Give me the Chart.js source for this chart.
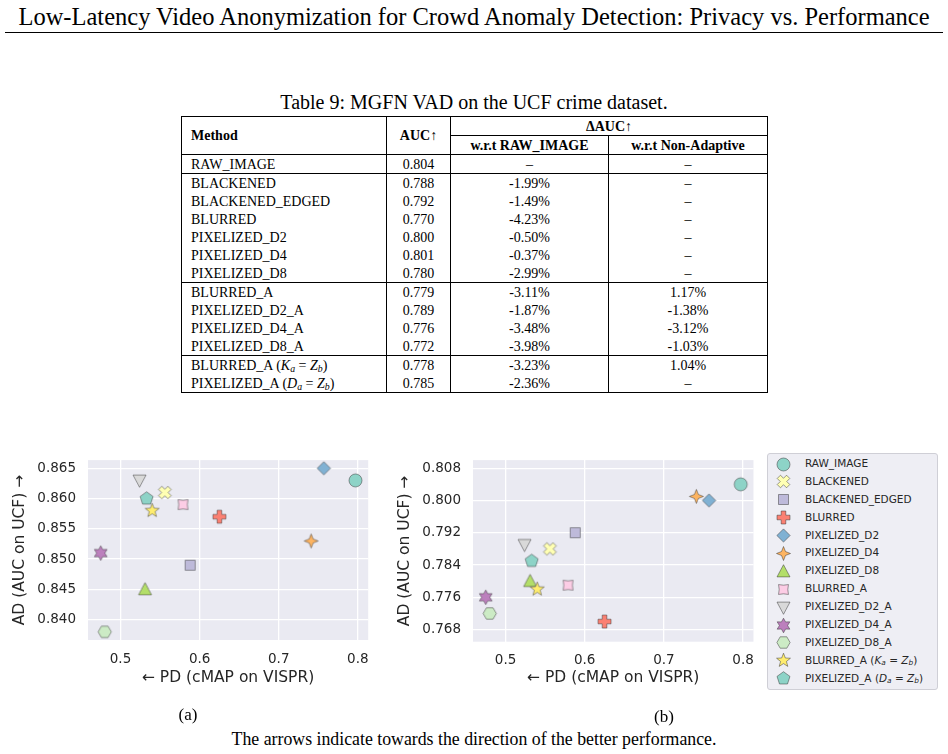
<!DOCTYPE html>
<html>
<head>
<meta charset="utf-8">
<script src="https://cdn.jsdelivr.net/npm/chart.js@4.4.0/dist/chart.umd.min.js"></script>
<style>
  body { margin: 0; width: 948px; height: 754px; position: relative; overflow: hidden; background: #fff;
         font-family: "Liberation Serif", "DejaVu Serif", serif; color: #000; }
  .abs { position: absolute; }
  #header { left: 0; top: 3px; width: 948px; text-align: center; font-size: 24.5px; line-height: 28px; white-space: nowrap; }
  #rule { left: 5px; top: 32px; width: 938px; border-top: 1px solid #000; }
  #tcap { left: 0; top: 91px; width: 948px; text-align: center; font-size: 20px; line-height: 22px; }
  #tbl { position: absolute; left: 181px; top: 116px; border-collapse: collapse; table-layout: fixed;
         font-size: 14px; border: 1px solid #000; }
  #tbl th, #tbl td { padding: 0; height: 18px; line-height: 17px; text-align: center; white-space: nowrap;
         border-left: 1px solid #000; border-right: 1px solid #000; }
  #tbl th { font-weight: bold; }
  #tbl .l { text-align: left; padding-left: 9px; }
  #tbl .bb { border-bottom: 1px solid #000; }
  #tbl tr.sep td { border-top: 1px solid #000; }
  sub { font-size: 0.7em; vertical-align: -0.2em; line-height: 0; }
  canvas { position: absolute; }
  #legend { left: 767px; top: 453px; width: 171px; height: 237px; box-sizing: border-box;
            border: 1px solid #cfcfd6; border-radius: 3px; background: #eeeef4;
            font-family: "DejaVu Sans", sans-serif; font-size: 10.5px; color: #262626; padding-top: 1px; }
  .lrow { position: relative; height: 17.9px; line-height: 17.9px; }
  .lrow canvas { left: 7px; top: 0.5px; }
  .lrow span { position: absolute; left: 37px; top: 0; }
  .cap { text-align: center; line-height: 20px; white-space: nowrap; }
</style>
</head>
<body>
<div id="header" class="abs">Low-Latency Video Anonymization for Crowd Anomaly Detection: Privacy vs. Performance</div>
<div id="rule" class="abs"></div>
<div id="tcap" class="abs">Table 9: MGFN VAD on the UCF crime dataset.</div>
<table id="tbl">
  <colgroup><col style="width:205px"><col style="width:64px"><col style="width:158px"><col style="width:159px"></colgroup>
  <thead>
    <tr><th rowspan="2" class="l">Method</th><th rowspan="2">AUC↑</th><th colspan="2" class="bb">ΔAUC↑</th></tr>
    <tr><th>w.r.t RAW_IMAGE</th><th>w.r.t Non-Adaptive</th></tr>
  </thead>
  <tbody id="tbody"></tbody>
</table>

<canvas id="chartA" width="380" height="270" style="left:0px; top:440px;"></canvas>
<canvas id="chartB" width="380" height="270" style="left:385px; top:440px;"></canvas>
<div id="legend" class="abs"></div>

<div class="abs cap" style="left:148px; top:705px; width:80px; font-size:17px;">(a)</div>
<div class="abs cap" style="left:624px; top:707px; width:80px; font-size:17px;">(b)</div>
<div class="abs cap" style="left:0; top:729px; width:948px; font-size:17.8px;">The arrows indicate towards the direction of the better performance.</div>

<script>
// methods, same order in the table and in the legend
const methods = ['RAW_IMAGE', 'BLACKENED', 'BLACKENED_EDGED', 'BLURRED', 'PIXELIZED_D2', 'PIXELIZED_D4',
                 'PIXELIZED_D8', 'BLURRED_A', 'PIXELIZED_D2_A', 'PIXELIZED_D4_A', 'PIXELIZED_D8_A',
                 'BLURRED_A (K_a = Z_b)', 'PIXELIZED_A (D_a = Z_b)'];

// table 9 values (AUC on UCF with MGFN) - also the y values of plot (b)
const aucUcf = [0.804, 0.788, 0.792, 0.770, 0.800, 0.801, 0.780, 0.779, 0.789, 0.776, 0.772, 0.778, 0.785];
const deltaRaw = [null, -1.99, -1.49, -4.23, -0.50, -0.37, -2.99, -3.11, -1.87, -3.48, -3.98, -3.23, -2.36];
const deltaNonAdaptive = [null, null, null, null, null, null, null, 1.17, -1.38, -3.12, -1.03, 1.04, null];
const groupStarts = [0, 1, 7, 11];

// plot values
const pdVispr = [0.797, 0.556, 0.588, 0.625, 0.757, 0.741, 0.531, 0.579, 0.524, 0.475, 0.480, 0.540, 0.533];
const adPlotA = [0.863, 0.861, 0.849, 0.857, 0.865, 0.853, 0.845, 0.859, 0.863, 0.851, 0.838, 0.858, 0.860];
const adPlotB = aucUcf;

// ticks
const xTicks = [0.5, 0.6, 0.7, 0.8];
const xTickLabels = ['0.5', '0.6', '0.7', '0.8'];
const yTicksA = [0.840, 0.845, 0.850, 0.855, 0.860, 0.865];
const yTickLabelsA = ['0.840', '0.845', '0.850', '0.855', '0.860', '0.865'];
const yTicksB = [0.768, 0.776, 0.784, 0.792, 0.800, 0.808];
const yTickLabelsB = ['0.768', '0.776', '0.784', '0.792', '0.800', '0.808'];

// Set3 colours and marker shapes
const colors = ['#8dd3c7', '#ffffb3', '#bebada', '#fb8072', '#80b1d3', '#fdb462', '#b3de69',
                '#fccde5', '#d9d9d9', '#bc80bd', '#ccebc5', '#ffed6f', '#8dd3c7'];
const shapes = ['circle', 'x', 'square', 'plus', 'diamond', 'star4', 'triUp', 'star4r',
                'triDown', 'star6', 'hexagon', 'star5', 'pentagon'];

const ink = '#262626';

function mathLabel(s) {
  return s.replace(/([A-Z])_([a-z]) = ([A-Z])_([a-z])/, '<i>$1<sub>$2</sub></i> = <i>$3<sub>$4</sub></i>');
}

// --- table ---
const tbody = document.getElementById('tbody');
methods.forEach((m, i) => {
  const tr = document.createElement('tr');
  if (groupStarts.includes(i)) tr.className = 'sep';
  const fmt = v => v === null ? '–' : v.toFixed(2) + '%';
  tr.innerHTML = '<td class="l">' + mathLabel(m) + '</td><td>' + aucUcf[i].toFixed(3) + '</td><td>' +
    fmt(deltaRaw[i]) + '</td><td>' + fmt(deltaNonAdaptive[i]) + '</td>';
  tbody.appendChild(tr);
});

// --- markers ---
function star(n, ro, ri, rot) {
  const out = [];
  for (let k = 0; k < 2 * n; k++) {
    const r = k % 2 ? ri : ro, a = rot + k * Math.PI / n;
    out.push([r * Math.sin(a), -r * Math.cos(a)]);
  }
  return out;
}
function ngon(n, r, rot) {
  const out = [];
  for (let k = 0; k < n; k++) {
    const a = rot + k * 2 * Math.PI / n;
    out.push([r * Math.sin(a), -r * Math.cos(a)]);
  }
  return out;
}
function cross(w, l, rot) {
  const base = [[-w, -l], [w, -l], [w, -w], [l, -w], [l, w], [w, w], [w, l], [-w, l], [-w, w], [-l, w], [-l, -w], [-w, -w]];
  const c = Math.cos(rot), s = Math.sin(rot);
  return base.map(([x, y]) => [x * c - y * s, x * s + y * c]);
}

function makeMarker(shape, color) {
  const c = document.createElement('canvas');
  c.width = 17; c.height = 17;
  const g = c.getContext('2d');
  const cx = 8.5, cy = 8.5;
  let p = null;
  g.beginPath();
  switch (shape) {
    case 'circle': g.arc(cx, cy, 6.5, 0, Math.PI * 2); break;
    case 'x': p = cross(2.3, 6.6, Math.PI / 4); break;
    case 'square': p = [[-5, -5], [5, -5], [5, 5], [-5, 5]]; break;
    case 'plus': p = cross(2.3, 6.5, 0); break;
    case 'diamond': p = ngon(4, 6.6, 0); break;
    case 'star4': p = star(4, 7, 2.8, 0); break;
    case 'triUp': p = [[0, -6.8], [6.5, 5.4], [-6.5, 5.4]]; break;
    case 'star4r': p = star(4, 7, 4.3, Math.PI / 4); break;
    case 'triDown': p = [[0, 6.8], [6.5, -5.4], [-6.5, -5.4]]; break;
    case 'star6': p = star(6, 7.3, 4.1, 0); break;
    case 'hexagon': p = ngon(6, 6.6, Math.PI / 6); break;
    case 'star5': p = star(5, 7.3, 3.1, 0); break;
    case 'pentagon': p = ngon(5, 6.8, 0); break;
  }
  if (p) {
    p.forEach(([x, y], k) => k ? g.lineTo(cx + x, cy + y) : g.moveTo(cx + x, cy + y));
    g.closePath();
  }
  g.fillStyle = color;
  g.fill();
  g.lineWidth = 0.7;
  g.strokeStyle = 'rgba(40,40,40,0.65)';
  g.stroke();
  return c;
}

// --- legend (html, with math in labels) ---
const legend = document.getElementById('legend');
methods.forEach((m, i) => {
  const row = document.createElement('div');
  row.className = 'lrow';
  row.appendChild(makeMarker(shapes[i], colors[i]));
  const span = document.createElement('span');
  span.innerHTML = mathLabel(m);
  row.appendChild(span);
  legend.appendChild(row);
});

// --- charts ---
const plotBg = {
  id: 'plotBg',
  beforeDraw(chart) {
    const { ctx, chartArea: a } = chart;
    ctx.save();
    ctx.fillStyle = '#eaeaf2';
    ctx.fillRect(a.left, a.top, a.right - a.left, a.bottom - a.top);
    ctx.restore();
  }
};

function buildChart(id, ad, yMin, yMax, yTicks, yLabels, area) {
  const datasets = methods.map((m, i) => ({
    label: m,
    data: [{ x: pdVispr[i], y: ad[i] }],
    pointStyle: makeMarker(shapes[i], colors[i]),
    order: methods.length - i,
    clip: false
  }));
  const tickFont = { family: 'DejaVu Sans', size: 13.5 };
  const titleFont = { family: 'DejaVu Sans', size: 15.5 };
  return new Chart(document.getElementById(id), {
    type: 'scatter',
    data: { datasets: datasets },
    options: {
      responsive: false,
      animation: false,
      events: [],
      layout: { padding: { top: area.top, right: area.right, left: 0, bottom: 0 } },
      plugins: { legend: { display: false }, tooltip: { enabled: false } },
      scales: {
        x: {
          type: 'linear', min: 0.4589, max: 0.8131,
          afterBuildTicks: s => { s.ticks = xTicks.map(v => ({ value: v })); },
          afterFit: s => { s.height = area.xh; },
          grid: { color: '#ffffff', lineWidth: 1.3, drawTicks: false },
          border: { display: false },
          ticks: { padding: 11, color: ink, font: tickFont, maxRotation: 0, callback: (v, i) => xTickLabels[i] },
          title: { display: true, text: '← PD (cMAP on VISPR)', color: ink, font: titleFont, padding: { top: 0, bottom: 22.5 } }
        },
        y: {
          type: 'linear', min: yMin, max: yMax,
          afterBuildTicks: s => { s.ticks = yTicks.map(v => ({ value: v })); },
          afterFit: s => { s.width = 88; },
          grid: { color: '#ffffff', lineWidth: 1.3, drawTicks: false },
          border: { display: false },
          ticks: { padding: 12, color: ink, font: tickFont, callback: (v, i) => yLabels[i] },
          title: { display: true, text: 'AD (AUC on UCF) →', color: ink, font: titleFont, padding: { top: 10.7, bottom: 0 } }
        }
      }
    },
    plugins: [plotBg]
  });
}

buildChart('chartA', adPlotA, 0.83665, 0.86635, yTicksA, yTickLabelsA, { top: 14, right: 11, xh: 70 });
buildChart('chartB', adPlotB, 0.765, 0.810, yTicksB, yTickLabelsB, { top: 11.7, right: 3.3, xh: 68.3 });
</script>
</body>
</html>
